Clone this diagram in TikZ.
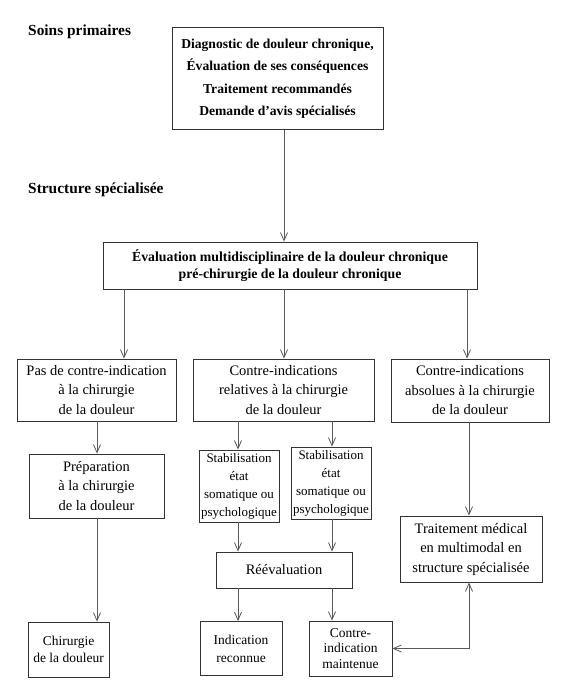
\documentclass[tikz,border=0pt]{standalone}
\usepackage{fontspec}
\setmainfont{Liberation Serif}
\usetikzlibrary{arrows.meta}
\begin{document}
\begin{tikzpicture}[x=1pt,y=-1pt,
  box/.style={draw=black!80, line width=0.8pt, align=center, inner sep=0pt, font=\fontsize{14.5}{19.5}\selectfont},
  bbox/.style={box, font=\bfseries\fontsize{13.6}{22.5}\selectfont},
  sbox/.style={box, font=\fontsize{13}{18}\selectfont},
  tbox/.style={box, font=\fontsize{13.5}{17}\selectfont},
  arr/.style={draw=black!65, line width=0.8pt, -{Straight Barb[length=8pt,width=7pt]}},
  darr/.style={draw=black!65, line width=0.8pt, {Straight Barb[length=8pt,width=7pt]}-{Straight Barb[length=8pt,width=7pt]}},
  lab/.style={anchor=base west, inner sep=0pt, font=\bfseries\fontsize{15.4}{18}\selectfont}]
\useasboundingbox (0,0) rectangle (564,682);

\node[lab] (l1) at (28,36) {Soins primaires};
\node[lab] (l2) at (28,193) {Structure spécialisée};

\node[bbox, minimum width=211pt, minimum height=102pt] (b1) at (277.5,78.5)
  {Diagnostic de douleur chronique,\\Évaluation de ses conséquences\\Traitement recommandés\\Demande d’avis spécialisés};
\node[bbox, minimum width=374pt, minimum height=47pt, font=\bfseries\fontsize{13.8}{17}\selectfont] (b2) at (290,265.5)
  {Évaluation multidisciplinaire de la douleur chronique\\pré-chirurgie de la douleur chronique};

\node[box, minimum width=159pt, minimum height=62pt] (b3L) at (96.5,390)
  {Pas de contre-indication\\à la chirurgie\\de la douleur};
\node[box, minimum width=181pt, minimum height=62pt] (b3M) at (283.5,390)
  {Contre-indications\\relatives à la chirurgie\\de la douleur};
\node[box, minimum width=158pt, minimum height=63pt] (b3R) at (470,390.5)
  {Contre-indications\\absolues à la chirurgie\\de la douleur};

\node[box, minimum width=135pt, minimum height=64pt] (prep) at (96.5,486)
  {Préparation\\à la chirurgie\\de la douleur};
\node[sbox, minimum width=80pt, minimum height=72pt] (s1) at (239,486)
  {Stabilisation\\état\\somatique ou\\psychologique};
\node[sbox, minimum width=80pt, minimum height=72pt] (s2) at (331,483)
  {Stabilisation\\état\\somatique ou\\psychologique};
\node[box, minimum width=136pt, minimum height=36pt] (reev) at (284,570) {Réévaluation};
\node[box, minimum width=142pt, minimum height=66pt] (trait) at (471,549)
  {Traitement médical\\en multimodal en\\structure spécialisée};

\node[tbox, minimum width=81pt, minimum height=55pt] (chir) at (68.5,649.5)
  {Chirurgie\\de la douleur};
\node[tbox, minimum width=82pt, minimum height=54pt, font=\fontsize{13.5}{18}\selectfont] (indic) at (241,648.5)
  {Indication\\reconnue};
\node[tbox, minimum width=83pt, minimum height=55pt, font=\fontsize{13.5}{15.5}\selectfont] (contre) at (350.5,648.5)
  {Contre-\\indication\\maintenue};

\coordinate (xa) at (284,0);
\coordinate (xb) at (124,0);
\coordinate (xc) at (467,0);
\coordinate (xd) at (97,0);
\coordinate (xe) at (238,0);
\coordinate (xf) at (332,0);
\coordinate (xg) at (469,0);

\draw[arr] (b1.south -| xa) -- (b2.north -| xa);
\draw[arr] (b2.south -| xb) -- (b3L.north -| xb);
\draw[arr] (b2.south -| xa) -- (b3M.north -| xa);
\draw[arr] (b2.south -| xc) -- (b3R.north -| xc);
\draw[arr] (b3L.south -| xd) -- (prep.north -| xd);
\draw[arr] (prep.south -| xd) -- (chir.north -| xd);
\draw[arr] (b3M.south -| xe) -- (s1.north -| xe);
\draw[arr] (b3M.south -| xf) -- (s2.north -| xf);
\draw[arr] (s1.south -| xe) -- (reev.north -| xe);
\draw[arr] (s2.south -| xf) -- (reev.north -| xf);
\draw[arr] (reev.south -| xe) -- (indic.north -| xe);
\draw[arr] (reev.south -| xf) -- (contre.north -| xf);
\draw[arr] (b3R.south -| xg) -- (trait.north -| xg);
\draw[darr] (trait.south -| xg) |- (contre.east);
\end{tikzpicture}
\end{document}
